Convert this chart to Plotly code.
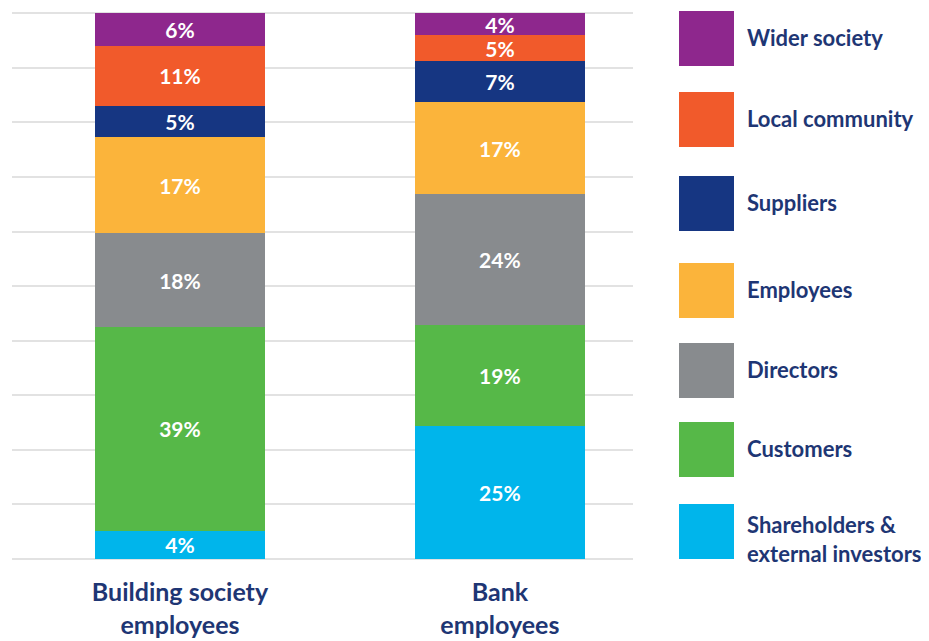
import plotly.graph_objects as go

categories = ["Building society<br>employees", "Bank<br>employees"]
series_names = ["Shareholders &<br>external investors", "Customers", "Directors",
                "Employees", "Suppliers", "Local community", "Wider society"]
# printed percentage labels
shareholders_lbl = [4, 25]
customers_lbl = [39, 19]
directors_lbl = [18, 24]
employees_lbl = [17, 17]
suppliers_lbl = [5, 7]
local_community_lbl = [11, 5]
wider_society_lbl = [6, 4]
# segment heights as drawn (percent of 100)
shareholders = [5.2, 24.4]
customers = [37.3, 18.5]
directors = [17.2, 24.0]
employees = [17.6, 16.8]
suppliers = [5.8, 7.5]
local_community = [11.0, 4.9]
wider_society = [5.9, 3.9]

series_values = [shareholders, customers, directors, employees, suppliers,
                 local_community, wider_society]
series_labels = [shareholders_lbl, customers_lbl, directors_lbl, employees_lbl,
                 suppliers_lbl, local_community_lbl, wider_society_lbl]
colors = ["#00B5EB", "#56B848", "#888B8E", "#FBB43B", "#163682", "#F15A2B", "#8E278D"]
NAVY = "#1E3674"
FONT = "Lato"

OFF = 8  # page body margin
W, H = 929 - OFF, 641 - OFF
L, R, T, B = 12 - OFF, 296, 12 - OFF, 82
pw, ph = W - L - R, H - T - B

fig = go.Figure()
for name, vals, lbls, col in zip(series_names, series_values, series_labels, colors):
    fig.add_trace(go.Bar(
        x=categories, y=vals, name=name, marker=dict(color=col, line=dict(width=0)),
        text=[f"{v}%" for v in lbls], textposition="inside", insidetextanchor="middle",
        textangle=0, textfont=dict(color="white", size=21, family=FONT, weight="bold"),
        width=0.53, showlegend=False,
    ))

def px_x(p):
    return (p - OFF - L) / pw

def px_y(p):
    return (H - B - (p - OFF)) / ph

shapes = []
annotations = []
legend_order = list(range(len(series_names)))[::-1]
sq_tops = [11, 92, 176, 263, 343, 422, 504]
for idx, top in zip(legend_order, sq_tops):
    shapes.append(dict(type="rect", xref="paper", yref="paper",
                       x0=px_x(679), x1=px_x(734), y0=px_y(top + 55), y1=px_y(top),
                       fillcolor=colors[idx], line=dict(width=0)))
    cy = top + 27.5 + (7 if idx == 0 else -1)
    annotations.append(dict(xref="paper", yref="paper", x=px_x(745), y=px_y(cy),
                            xanchor="left", yanchor="middle", align="left",
                            text=f"<b>{series_names[idx]}</b>", showarrow=False,
                            font=dict(size=22, color=NAVY, family=FONT)))

fig.update_layout(
    barmode="stack", width=W, height=H,
    margin=dict(l=L, r=R, t=T, b=B, autoexpand=False),
    plot_bgcolor="white", paper_bgcolor="white",
    uniformtext=dict(minsize=21, mode="show"),
    xaxis=dict(range=[-0.525, 1.416], showgrid=False, zeroline=False, showline=False,
               ticks="", ticklabelstandoff=16, fixedrange=True, automargin=False),
    yaxis=dict(range=[0, 100.25], dtick=10, showgrid=True, gridcolor="#E2E2E2", gridwidth=1.5,
               showticklabels=False, zeroline=True, zerolinecolor="#E2E2E2", zerolinewidth=1.5,
               showline=False, ticks="", automargin=False),
    shapes=shapes, annotations=annotations,
    font=dict(family=FONT),
)
fig.update_xaxes(ticktext=[f"<b>{c}</b>" for c in categories], tickvals=categories,
                 tickfont=dict(family=FONT, size=25, color=NAVY))

fig.write_html("out.html")
